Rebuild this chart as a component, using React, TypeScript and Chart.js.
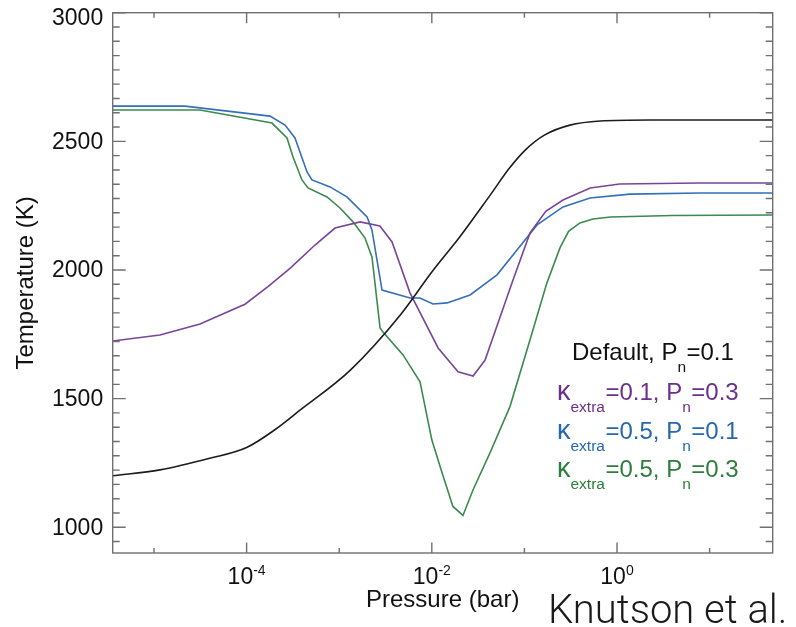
import { useEffect, useRef } from "react";
import { Chart, registerables } from "chart.js";

Chart.register(...registerables);

// Axis limits
const P_MIN = 3.58e-6;
const P_MAX = 48;
const T_MIN = 900;
const T_MAX = 3000;

// Temperature tick marks (K)
const T_MAJOR = [1000, 1500, 2000, 2500, 3000];
const T_MINOR_PER_MAJOR = 9;
// Pressure decades (exponents)
const P_LABELED_EXP = [-4, -2, 0];
const P_MINOR_EXP = [-5, -3, -1, 1];

// Default, Pn = 0.1
const defaultP = [3.58e-6, 1.16e-5, 4.0e-5, 1.0e-4, 2.0e-4, 3.8e-4, 1.32e-3, 4.57e-3, 1.0e-2, 2.0e-2, 4.27e-2, 6.9e-2, 0.102, 0.166, 0.31, 0.66, 2.3, 48];
const defaultT = [1200, 1223, 1268, 1310, 1378, 1456, 1611, 1825, 1992, 2128, 2291, 2396, 2466, 2525, 2563, 2579, 2583, 2583];

// kappa_extra = 0.1, Pn = 0.3
const k01p03P = [3.58e-6, 1.16e-5, 3.14e-5, 9.6e-5, 1.7e-4, 2.94e-4, 5.48e-4, 9.0e-4, 1.68e-3, 2.75e-3, 3.72e-3, 5.81e-3, 1.17e-2, 1.92e-2, 2.79e-2, 3.76e-2, 7.53e-2, 0.115, 0.17, 0.261, 0.513, 1.07, 7.9, 48];
const k01p03T = [1724, 1747, 1790, 1867, 1935, 2006, 2097, 2163, 2187, 2171, 2109, 1911, 1697, 1604, 1588, 1650, 1961, 2144, 2228, 2272, 2319, 2334, 2338, 2338];

// kappa_extra = 0.5, Pn = 0.1
const k05p01P = [3.58e-6, 2.16e-5, 1.79e-4, 2.6e-4, 3.33e-4, 4.49e-4, 5.08e-4, 7.96e-4, 1.21e-3, 2.0e-3, 2.26e-3, 2.9e-3, 5.82e-3, 7.46e-3, 1.03e-2, 1.46e-2, 2.59e-2, 5.06e-2, 8.32e-2, 0.137, 0.261, 0.511, 1.38, 7.87, 48];
const k05p01T = [2637, 2637, 2598, 2563, 2513, 2381, 2350, 2323, 2284, 2206, 2155, 1922, 1891, 1891, 1868, 1872, 1903, 1981, 2078, 2175, 2245, 2280, 2295, 2299, 2299];

// kappa_extra = 0.5, Pn = 0.3
const k05p03P = [3.58e-6, 3.14e-5, 1.88e-4, 2.73e-4, 3.17e-4, 3.96e-4, 4.6e-4, 7.38e-4, 1.02e-3, 1.41e-3, 1.9e-3, 2.26e-3, 2.76e-3, 2.97e-3, 4.89e-3, 7.46e-3, 1.0e-2, 1.29e-2, 1.69e-2, 2.17e-2, 2.79e-2, 4.26e-2, 6.98e-2, 0.115, 0.175, 0.242, 0.3, 0.398, 0.55, 0.85, 4.0, 48];
const k05p03T = [2622, 2622, 2571, 2513, 2439, 2350, 2319, 2284, 2241, 2187, 2124, 2050, 1775, 1759, 1670, 1565, 1340, 1212, 1081, 1046, 1146, 1290, 1469, 1729, 1950, 2086, 2150, 2183, 2198, 2206, 2212, 2214];

const COLORS = {
  black: "#1c1c1c",
  purple: "#7a4599",
  blue: "#3470b5",
  green: "#3b8a4f",
  purpleText: "#6b2f8c",
  blueText: "#2767ae",
  greenText: "#2d7d3c",
};

type Part = { t: string; sub?: boolean };
type LegendRow = { x: number; y: number; color: string; parts: Part[] };

const legendRows: LegendRow[] = [
  { x: 572, y: 360, color: "#111111", parts: [{ t: "Default, P" }, { t: "n", sub: true }, { t: "=0.1" }] },
  { x: 557, y: 400, color: COLORS.purpleText, parts: [{ t: "κ" }, { t: "extra", sub: true }, { t: "=0.1, P" }, { t: "n", sub: true }, { t: "=0.3" }] },
  { x: 557, y: 439, color: COLORS.blueText, parts: [{ t: "κ" }, { t: "extra", sub: true }, { t: "=0.5, P" }, { t: "n", sub: true }, { t: "=0.1" }] },
  { x: 557, y: 477, color: COLORS.greenText, parts: [{ t: "κ" }, { t: "extra", sub: true }, { t: "=0.5, P" }, { t: "n", sub: true }, { t: "=0.3" }] },
];

const FONT = '"Liberation Sans", Arial, Helvetica, sans-serif';

const toPoints = (p: number[], t: number[]) => p.map((x, i) => ({ x, y: t[i] }));

const axesPlugin = {
  id: "idlAxes",
  afterDraw(chart: any) {
    const { ctx, chartArea, scales } = chart;
    const { left, right, top, bottom } = chartArea;
    const xs = scales.x;
    const ys = scales.y;
    ctx.save();

    // frame
    ctx.strokeStyle = "#707070";
    ctx.lineWidth = 1.4;
    ctx.strokeRect(left, top, right - left, bottom - top);

    // temperature ticks on both sides, pointing inward
    const step = 500 / T_MINOR_PER_MAJOR;
    ctx.beginPath();
    for (const major of T_MAJOR) {
      for (let k = -T_MINOR_PER_MAJOR + 1; k < T_MINOR_PER_MAJOR; k++) {
        const v = major + k * step;
        if (v < T_MIN || v > T_MAX) continue;
        if (k !== 0 && T_MAJOR.some((m) => Math.abs(m - v) < 1e-6)) continue;
        const py = ys.getPixelForValue(v);
        const len = k === 0 ? 13 : 7;
        ctx.moveTo(left, py);
        ctx.lineTo(left + len, py);
        ctx.moveTo(right, py);
        ctx.lineTo(right - len, py);
      }
    }
    // pressure decade ticks on top and bottom
    for (const e of [...P_LABELED_EXP, ...P_MINOR_EXP]) {
      const px = xs.getPixelForValue(Math.pow(10, e));
      const len = P_LABELED_EXP.includes(e) ? 10.5 : 5;
      ctx.moveTo(px, bottom);
      ctx.lineTo(px, bottom - len);
      ctx.moveTo(px, top);
      ctx.lineTo(px, top + len);
    }
    ctx.stroke();

    // temperature labels
    ctx.fillStyle = "#111111";
    ctx.font = `23px ${FONT}`;
    ctx.textAlign = "right";
    ctx.textBaseline = "middle";
    for (const v of T_MAJOR) {
      const py = Math.max(ys.getPixelForValue(v), 18);
      ctx.fillText(String(v), left - 9.5, py + 1);
    }

    // pressure labels with superscript exponents
    ctx.textBaseline = "alphabetic";
    ctx.textAlign = "left";
    for (const e of P_LABELED_EXP) {
      const px = xs.getPixelForValue(Math.pow(10, e));
      ctx.font = `23px ${FONT}`;
      const wb = ctx.measureText("10").width;
      ctx.font = `14px ${FONT}`;
      const sup = String(e);
      const ws = ctx.measureText(sup).width;
      const x0 = px - (wb + ws) / 2;
      ctx.font = `23px ${FONT}`;
      ctx.fillText("10", x0, 584);
      ctx.font = `14px ${FONT}`;
      ctx.fillText(sup, x0 + wb, 575);
    }

    // axis titles
    ctx.font = `24px ${FONT}`;
    ctx.textAlign = "center";
    ctx.fillText("Pressure (bar)", (left + right) / 2, 607);
    ctx.save();
    ctx.translate(33, (top + bottom) / 2);
    ctx.rotate(-Math.PI / 2);
    ctx.fillText("Temperature (K)", 0, 0);
    ctx.restore();

    // legend with subscripts
    ctx.textAlign = "left";
    for (const row of legendRows) {
      ctx.fillStyle = row.color;
      let x = row.x;
      for (const part of row.parts) {
        const isKappa = part.t === "κ";
        ctx.font = part.sub ? `15.5px ${FONT}` : isKappa ? `27px ${FONT}` : `24px ${FONT}`;
        ctx.fillText(part.t, x, part.sub ? row.y + 12 : row.y);
        x += ctx.measureText(part.t).width + (part.sub ? 0.5 : 0);
      }
    }

    // credit
    ctx.fillStyle = "#1a1a1a";
    ctx.font = `300 40px Roboto, "Open Sans", ${FONT}`;
    ctx.fillText("Knutson et al.", 548, 623);

    ctx.restore();
  },
};

export default function App() {
  const ref = useRef<HTMLCanvasElement | null>(null);

  useEffect(() => {
    if (!ref.current) return;
    const line = (label: string, p: number[], t: number[], color: string, smooth = false) => ({
      label,
      data: toPoints(p, t),
      borderColor: color,
      backgroundColor: color,
      borderWidth: 1.6,
      pointRadius: 0,
      tension: 0,
      cubicInterpolationMode: smooth ? ("monotone" as const) : ("default" as const),
      fill: false,
    });

    const chart = new Chart(ref.current, {
      type: "line",
      data: {
        datasets: [
          line("Default, Pn=0.1", defaultP, defaultT, COLORS.black, true),
          line("κextra=0.1, Pn=0.3", k01p03P, k01p03T, COLORS.purple),
          line("κextra=0.5, Pn=0.1", k05p01P, k05p01T, COLORS.blue),
          line("κextra=0.5, Pn=0.3", k05p03P, k05p03T, COLORS.green),
        ],
      },
      options: {
        responsive: false,
        animation: false,
        devicePixelRatio: 1,
        layout: { padding: { left: 112.7, top: 12.7, right: 23.3, bottom: 74 } },
        plugins: { legend: { display: false }, tooltip: { enabled: false } },
        scales: {
          x: { type: "logarithmic", min: P_MIN, max: P_MAX, display: false },
          y: { type: "linear", min: T_MIN, max: T_MAX, display: false },
        },
      },
      plugins: [axesPlugin],
    });
    return () => chart.destroy();
  }, []);

  return (
    <div style={{ position: "fixed", left: 0, top: 0, width: 796, height: 627, background: "#ffffff" }}>
      <canvas ref={ref} width={796} height={627} style={{ display: "block" }} />
    </div>
  );
}
